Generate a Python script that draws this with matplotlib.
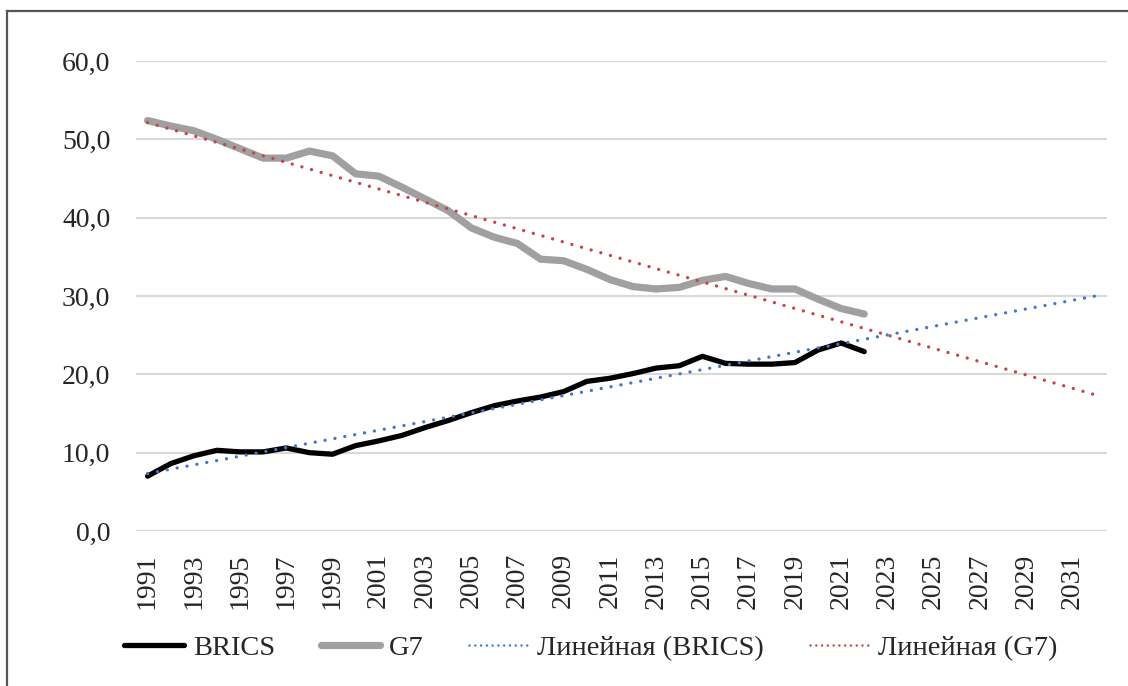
import numpy as np
import matplotlib
matplotlib.use("Agg")
import matplotlib.pyplot as plt
from matplotlib.lines import Line2D
from matplotlib.ticker import FuncFormatter

years = list(range(1991, 2023))
brics = [7.0, 8.6, 9.6, 10.3, 10.1, 10.1, 10.6, 10.0, 9.8, 10.9,
         11.5, 12.2, 13.2, 14.1, 15.1, 16.0, 16.6, 17.1, 17.8, 19.1,
         19.5, 20.1, 20.8, 21.1, 22.3, 21.4, 21.3, 21.3, 21.5, 23.1,
         24.0, 22.9]
g7 = [52.4, 51.7, 51.1, 50.0, 48.8, 47.6, 47.6, 48.5, 47.9, 45.6,
      45.3, 43.9, 42.4, 40.9, 38.7, 37.5, 36.7, 34.7, 34.5, 33.4,
      32.1, 31.2, 30.9, 31.1, 32.0, 32.5, 31.6, 30.9, 30.9, 29.6,
      28.4, 27.7]
forecast_end = 2032
tick_years = list(range(1991, 2032, 2))
labels = ["BRICS", "G7", "Линейная (BRICS)", "Линейная (G7)"]

plt.rcParams['font.family'] = ['Liberation Serif', 'DejaVu Serif']

fig = plt.figure(figsize=(11.28, 6.86), dpi=100)
ax = fig.add_axes([136/1128, 1-531/686, (1107-136)/1128, (531-61)/686])

yrs = np.array(years, dtype=float)
trend_x = np.arange(years[0], forecast_end + 1, dtype=float)
pb = np.polyfit(yrs, brics, 1)
pg = np.polyfit(yrs, g7, 1)

ax.plot(years, brics, color='black', lw=3.8, solid_capstyle='round',
        solid_joinstyle='round', zorder=3)
ax.plot(years, g7, color='#a0a0a0', lw=5.2, solid_capstyle='round',
        solid_joinstyle='round', zorder=3)
ax.plot(trend_x, np.polyval(pb, trend_x), color='#3f7ac6', lw=2.4,
        linestyle=(0, (0.01, 3.0)), dash_capstyle='round', zorder=4)
ax.plot(trend_x, np.polyval(pg, trend_x), color='#c94444', lw=2.4,
        linestyle=(0, (0.01, 3.0)), dash_capstyle='round', zorder=4)

ax.set_xlim(years[0] - 0.5, forecast_end + 0.5)
ax.set_ylim(0, 60)
ax.set_yticks(np.arange(0, 61, 10))
ax.yaxis.set_major_formatter(FuncFormatter(lambda v, p: f"{v:.1f}".replace('.', ',')))
ax.set_xticks(tick_years)
ax.set_xticklabels([str(y) for y in tick_years], rotation=90)
ax.tick_params(axis='both', length=0, labelsize=20, colors='#262626')
ax.tick_params(axis='y', pad=18.5)
ax.tick_params(axis='x', pad=16)
ax.grid(axis='y', color='#d9d9d9', lw=1.5)
ax.set_axisbelow(True)
for s in ax.spines.values():
    s.set_visible(False)

handles = [
    Line2D([], [], color='black', lw=3.8, solid_capstyle='round'),
    Line2D([], [], color='#a0a0a0', lw=5.2, solid_capstyle='round'),
    Line2D([], [], color='#3f7ac6', lw=1.8, linestyle=(0, (0.01, 2.3)), dash_capstyle='round'),
    Line2D([], [], color='#c94444', lw=1.8, linestyle=(0, (0.01, 2.3)), dash_capstyle='round'),
]
leg = fig.legend(handles, labels, loc='center', bbox_to_anchor=(591/1128, 1-648/686),
                 ncol=4, frameon=False, fontsize=20.5, handlelength=2.1,
                 handletextpad=0.3, columnspacing=1.6)
for t in leg.get_texts():
    t.set_color('#262626')

# outer frame (left and top edges visible)
fx = 7/1128
fy = 1 - 11/686
fig.add_artist(Line2D([fx, fx], [0, fy], transform=fig.transFigure, color='#555555', lw=1.6))
fig.add_artist(Line2D([fx, 1], [fy, fy], transform=fig.transFigure, color='#555555', lw=1.6))

fig.savefig('out.png', dpi=100)
